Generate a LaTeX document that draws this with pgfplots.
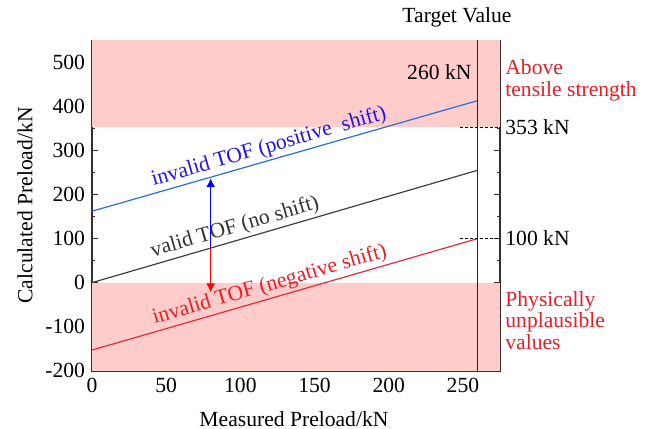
\documentclass[border=0pt]{standalone}
\usepackage{fontspec}
\setmainfont{Liberation Serif}
\usepackage{pgfplots}
\pgfplotsset{compat=1.18}
\usetikzlibrary{arrows.meta}
\definecolor{pinkfill}{RGB}{255,204,204}
\definecolor{lblue}{RGB}{40,110,220}
\definecolor{tblue}{RGB}{35,20,225}
\definecolor{lred}{RGB}{225,45,60}
\definecolor{tred}{RGB}{230,30,40}
\definecolor{axgray}{RGB}{60,45,45}
\begin{document}
\begin{tikzpicture}[font=\fontsize{10.8}{10.8}\selectfont]
\useasboundingbox (-46pt,-29pt) rectangle (278pt,185.4pt);
\begin{axis}[
  at={(0,0)}, anchor=south west,
  scale only axis, width=204pt, height=165.3pt,
  xmin=0, xmax=275, ymin=-200, ymax=550,
  xtick={0,50,...,250}, ytick={-200,-100,...,500},
  minor xtick={25,75,...,275}, minor ytick={-150,-50,...,550},
  major tick length=3pt, minor tick length=1.6pt,
  tick style={axgray, line width=0.6pt},
  axis line style={axgray, line width=0.7pt},
  /pgf/number format/assume math mode=true,
  xlabel={Measured Preload/kN},
  ylabel={Calculated Preload/kN},
  xlabel style={at={(axis description cs:0.495,-0.145)}, anchor=center},
  ylabel style={at={(axis description cs:-0.164,0.5)}, anchor=center},
  clip=false,
]
% shaded regions
\addplot[fill=pinkfill, draw=none] table {
x y
0 353
275 353
275 550
0 550
};
\addplot[fill=pinkfill, draw=none] table {
x y
0 -200
275 -200
275 0
0 0
};
% lines
\addplot[lblue, line width=0.6pt] coordinates {(0,162) (260,413)}
  node[pos=0.468, sloped, above, inner sep=1.2pt, text=tblue] {invalid TOF (positive\ \ shift)};
\addplot[black!75, line width=0.6pt] coordinates {(0,0) (260,255)}
  node[pos=0.38, sloped, above, inner sep=1.2pt, text=black!80] {valid TOF (no shift)};
\addplot[lred, line width=0.6pt] coordinates {(0,-153) (260,100)}
  node[pos=0.47, sloped, above, inner sep=1.2pt, text=tred] {invalid TOF (negative shift)};
% arrows
\addplot[blue, line width=0.6pt, -{Latex[length=4.5pt,width=4.5pt]}] coordinates {(80,78) (80,237)};
\addplot[red, line width=0.6pt, -{Latex[length=4.5pt,width=4.5pt]}] coordinates {(80,78) (80,-22)};
% target line
\addplot[black!85, line width=0.7pt] coordinates {(260,-200) (260,550)};
% dashed markers
\addplot[black, line width=0.5pt, dash pattern=on 1.5pt off 1pt] coordinates {(248,353) (275,353)};
\addplot[black, line width=0.5pt, dash pattern=on 1.5pt off 1pt] coordinates {(248,100) (275,100)};
% annotations
\node[anchor=east, inner sep=0pt] at (axis cs:256,478) {260 kN};
\node[anchor=center] at (axis cs:246,550) [yshift=11.4pt] {Target Value};
\node[anchor=west, inner sep=1pt, xshift=1.5pt] at (axis cs:275,353) {353 kN};
\node[anchor=west, inner sep=1pt, xshift=1.5pt] at (axis cs:275,100) {100 kN};
\node[anchor=west, inner sep=1pt, xshift=1.5pt, align=left, text=tred] at (axis cs:275,459) {Above\\tensile strength};
\node[anchor=west, inner sep=1pt, xshift=1.5pt, align=left, text=tred] at (axis cs:275,-86) {Physically\\unplausible\\values};
\end{axis}
\end{tikzpicture}
\end{document}
